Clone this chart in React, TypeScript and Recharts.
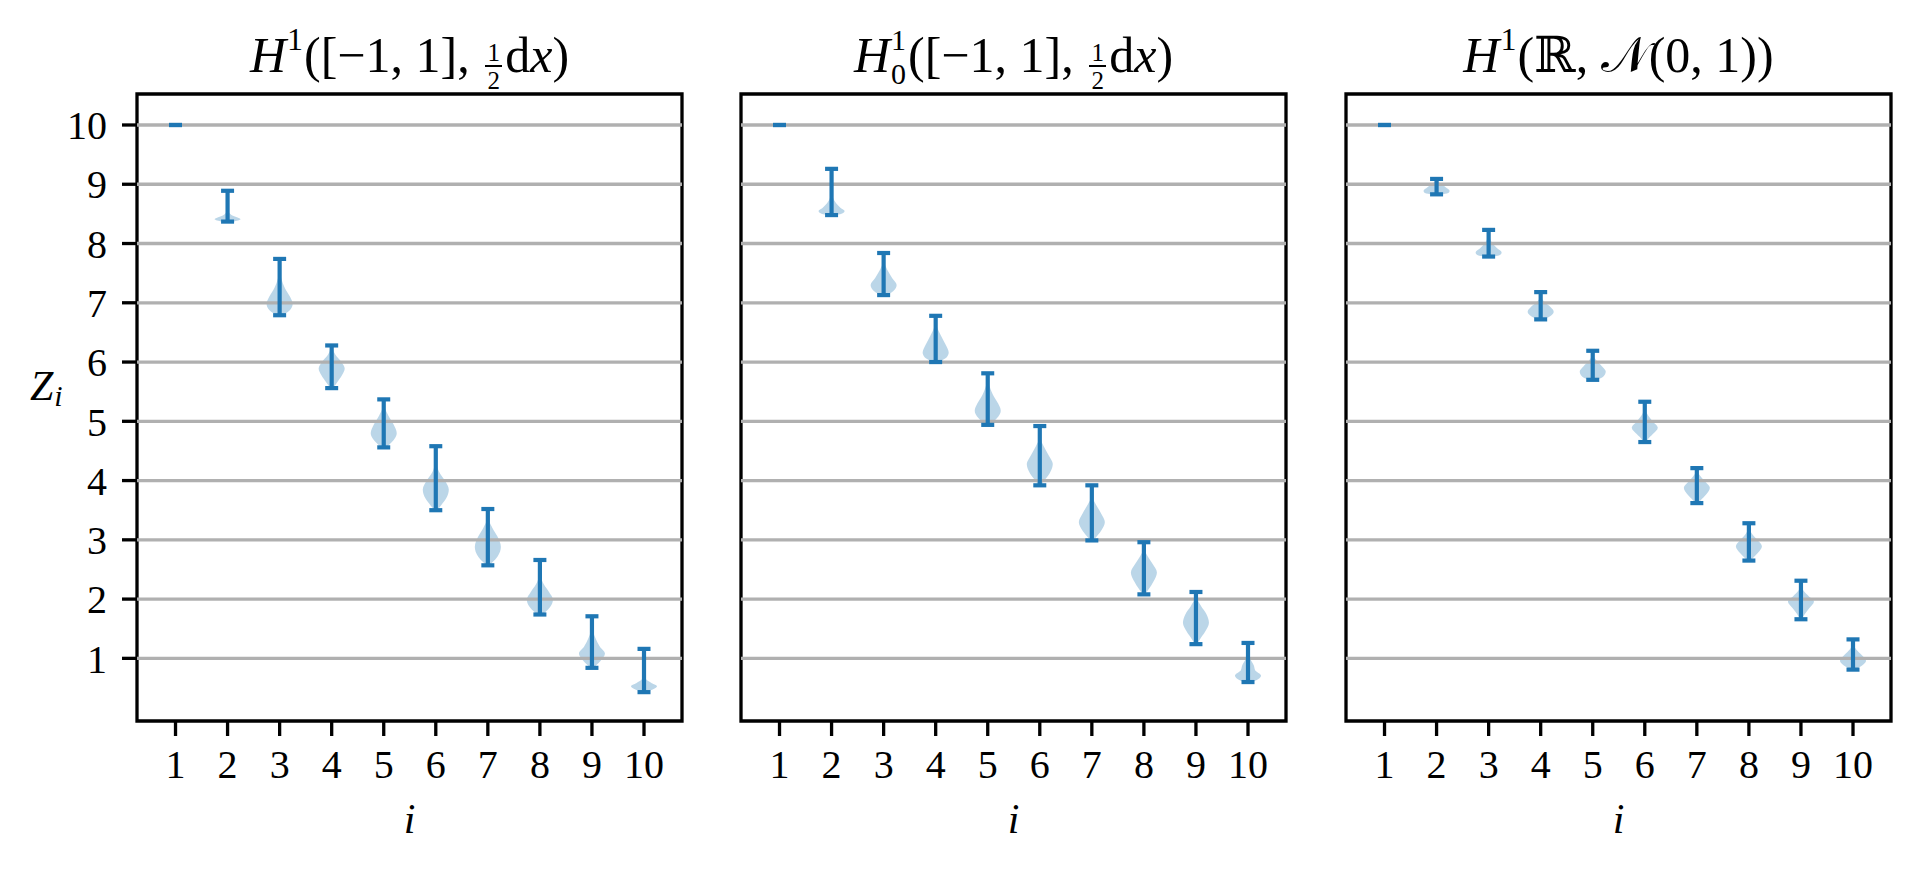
import React from 'react';
import {
  ComposedChart,
  XAxis,
  YAxis,
  Area,
  Scatter,
  ErrorBar,
  ReferenceLine,
  ReferenceArea,
} from 'recharts';

// [value, relative half-width 0..1], listed from the top of the violin down
type Profile = [number, number][];

const positions = [1, 2, 3, 4, 5, 6, 7, 8, 9, 10];
const yTicks = [1, 2, 3, 4, 5, 6, 7, 8, 9, 10];

// H^1([-1,1], 1/2 dx)
const h1Min = [10, 8.37, 6.79, 5.56, 4.56, 3.5, 2.57, 1.74, 0.84, 0.43];
const h1Max = [10, 8.89, 7.74, 6.28, 5.37, 4.58, 3.52, 2.66, 1.71, 1.16];
const h1Shapes: Profile[] = [
  [],
  [[8.89, 0.01], [8.7, 0.03], [8.55, 0.08], [8.48, 0.3], [8.43, 0.85], [8.41, 1.0], [8.39, 0.8], [8.37, 0.4]],
  [[7.74, 0.01], [7.6, 0.03], [7.42, 0.12], [7.25, 0.4], [7.1, 0.8], [6.98, 1.0], [6.88, 0.8], [6.82, 0.45], [6.79, 0.2]],
  [[6.28, 0.02], [6.22, 0.08], [6.12, 0.3], [6.0, 0.75], [5.89, 1.0], [5.78, 0.8], [5.65, 0.4], [5.56, 0.1]],
  [[5.37, 0.02], [5.22, 0.1], [5.1, 0.35], [4.95, 0.75], [4.8, 1.0], [4.68, 0.75], [4.6, 0.4], [4.56, 0.2]],
  [[4.58, 0.01], [4.3, 0.06], [4.15, 0.25], [4.0, 0.7], [3.85, 1.0], [3.7, 0.8], [3.58, 0.4], [3.5, 0.1]],
  [[3.52, 0.01], [3.32, 0.1], [3.2, 0.35], [3.05, 0.75], [2.88, 1.0], [2.72, 0.75], [2.62, 0.35], [2.57, 0.1]],
  [[2.66, 0.01], [2.4, 0.07], [2.25, 0.3], [2.12, 0.7], [1.99, 1.0], [1.87, 0.8], [1.78, 0.4], [1.74, 0.15]],
  [[1.71, 0.01], [1.5, 0.06], [1.35, 0.25], [1.2, 0.6], [1.08, 1.0], [0.97, 0.7], [0.88, 0.3], [0.84, 0.1]],
  [[1.16, 0.005], [0.8, 0.03], [0.65, 0.15], [0.58, 0.6], [0.53, 1.0], [0.48, 0.7], [0.45, 0.35], [0.43, 0.2]],
];

// H^1_0([-1,1], 1/2 dx)
const h0Min = [10, 8.48, 7.13, 6.0, 4.94, 3.92, 2.99, 2.08, 1.24, 0.6];
const h0Max = [10, 9.26, 7.84, 6.78, 5.81, 4.92, 3.92, 2.96, 2.12, 1.26];
const h0Shapes: Profile[] = [
  [],
  [[9.26, 0.005], [8.9, 0.02], [8.78, 0.1], [8.68, 0.35], [8.6, 0.7], [8.55, 1.0], [8.51, 0.85], [8.48, 0.35]],
  [[7.84, 0.01], [7.68, 0.06], [7.55, 0.3], [7.42, 0.65], [7.3, 1.0], [7.2, 0.75], [7.15, 0.4], [7.13, 0.2]],
  [[6.78, 0.01], [6.6, 0.1], [6.45, 0.4], [6.3, 0.75], [6.16, 1.0], [6.08, 0.85], [6.03, 0.5], [6.0, 0.3]],
  [[5.81, 0.01], [5.65, 0.08], [5.45, 0.4], [5.3, 0.8], [5.18, 1.0], [5.05, 0.7], [4.97, 0.3], [4.94, 0.15]],
  [[4.92, 0.01], [4.7, 0.06], [4.58, 0.3], [4.42, 0.7], [4.28, 1.0], [4.12, 0.75], [4.0, 0.35], [3.92, 0.1]],
  [[3.92, 0.01], [3.72, 0.06], [3.6, 0.3], [3.45, 0.7], [3.3, 1.0], [3.15, 0.7], [3.04, 0.3], [2.99, 0.12]],
  [[2.96, 0.01], [2.82, 0.08], [2.72, 0.3], [2.6, 0.65], [2.45, 1.0], [2.3, 0.75], [2.16, 0.35], [2.08, 0.1]],
  [[2.12, 0.02], [2.0, 0.1], [1.88, 0.4], [1.75, 0.8], [1.6, 1.0], [1.45, 0.7], [1.32, 0.3], [1.24, 0.1]],
  [[1.26, 0.01], [1.1, 0.04], [0.98, 0.2], [0.88, 0.45], [0.8, 0.55], [0.71, 1.0], [0.65, 0.8], [0.6, 0.35]],
];

// H^1(R, N(0,1))
const rMin = [10, 8.83, 7.78, 6.72, 5.7, 4.65, 3.62, 2.65, 1.66, 0.81];
const rMax = [10, 9.09, 8.23, 7.18, 6.19, 5.33, 4.21, 3.28, 2.31, 1.32];
const rShapes: Profile[] = [
  [],
  [[9.09, 0.03], [9.05, 0.12], [9.0, 0.4], [8.95, 0.7], [8.89, 1.0], [8.86, 0.95], [8.83, 0.5]],
  [[8.23, 0.01], [8.1, 0.08], [8.0, 0.3], [7.92, 0.65], [7.85, 1.0], [7.81, 0.9], [7.78, 0.4]],
  [[7.18, 0.01], [7.08, 0.08], [7.0, 0.35], [6.93, 0.75], [6.85, 1.0], [6.77, 0.7], [6.72, 0.2]],
  [[6.19, 0.01], [6.1, 0.06], [6.02, 0.3], [5.93, 0.7], [5.84, 1.0], [5.75, 0.8], [5.7, 0.3]],
  [[5.33, 0.01], [5.2, 0.04], [5.12, 0.2], [5.0, 0.6], [4.89, 1.0], [4.78, 0.6], [4.7, 0.25], [4.65, 0.1]],
  [[4.21, 0.01], [4.15, 0.06], [4.08, 0.25], [3.98, 0.65], [3.88, 1.0], [3.76, 0.7], [3.67, 0.3], [3.62, 0.1]],
  [[3.28, 0.01], [3.18, 0.06], [3.1, 0.25], [3.0, 0.65], [2.89, 1.0], [2.78, 0.7], [2.7, 0.35], [2.65, 0.1]],
  [[2.31, 0.01], [2.22, 0.04], [2.14, 0.2], [2.05, 0.6], [1.96, 1.0], [1.85, 0.65], [1.75, 0.3], [1.66, 0.05]],
  [[1.32, 0.01], [1.22, 0.05], [1.15, 0.25], [1.06, 0.65], [0.96, 1.0], [0.88, 0.7], [0.84, 0.4], [0.81, 0.2]],
];

const BLUE = '#1f77b4';
const GRID = '#b0b0b0';
const FONT = '"Liberation Serif", "DejaVu Serif", "DejaVu Sans", serif';
const X_DOMAIN: [number, number] = [0.26, 10.73];
const Y_DOMAIN: [number, number] = [-0.057, 10.523];
const HALF = 0.25; // violin half width in x units
const LW = 4.2;
const AXW = 3.3;
const H = 871;
const PLOT_TOP = 94;
const PLOT_BOTTOM = 721;
const PLOT_W = 545;

interface PanelProps {
  mins: number[];
  maxs: number[];
  shapes: Profile[];
  left: number;
  width: number;
  axisWidth: number;
  marginRight: number;
  yLabels: boolean;
}

function ViolinPanel({ mins, maxs, shapes, left, width, axisWidth, marginRight, yLabels }: PanelProps) {
  const bars = positions.map((p, i) => ({ x: p, y: mins[i], err: [0, maxs[i] - mins[i]] }));
  const tickStyle = { fill: '#000', fontSize: 40, fontFamily: FONT };
  return (
    <div style={{ position: 'absolute', left, top: 0 }}>
      <ComposedChart
        width={width}
        height={H}
        layout="vertical"
        margin={{ top: PLOT_TOP, right: marginRight, bottom: 50, left: 0 }}
      >
        <XAxis
          type="number"
          dataKey="x"
          domain={X_DOMAIN}
          allowDataOverflow
          ticks={positions}
          interval={0}
          axisLine={false}
          tickSize={15}
          tickMargin={14}
          tickLine={{ stroke: '#000', strokeWidth: AXW }}
          tick={tickStyle}
          height={H - PLOT_BOTTOM - 50}
        />
        <YAxis
          type="number"
          dataKey="y"
          domain={Y_DOMAIN}
          allowDataOverflow
          reversed
          ticks={yTicks}
          interval={0}
          axisLine={false}
          width={axisWidth}
          tickSize={15}
          tickMargin={15}
          tickLine={{ stroke: '#000', strokeWidth: AXW }}
          tick={yLabels ? tickStyle : false}
        />
        {shapes.map((prof, i) =>
          prof.length > 0 ? (
            <Area
              key={`v${i}`}
              data={prof.map(([v, w]) => ({
                y: v,
                band: [positions[i] - HALF * w, positions[i] + HALF * w],
              }))}
              dataKey="band"
              type="monotone"
              stroke="none"
              fill={BLUE}
              fillOpacity={0.3}
              isAnimationActive={false}
            />
          ) : null
        )}
        {yTicks.map((t) => (
          <ReferenceLine key={`g${t}`} y={t} stroke={GRID} strokeWidth={AXW} />
        ))}
        <Scatter data={bars} shape={() => <g />} isAnimationActive={false}>
          <ErrorBar dataKey="err" direction="y" width={6.5} stroke={BLUE} strokeWidth={LW} isAnimationActive={false} />
        </Scatter>
        <ReferenceArea
          x1={X_DOMAIN[0]}
          x2={X_DOMAIN[1]}
          y1={Y_DOMAIN[0]}
          y2={Y_DOMAIN[1]}
          fill="none"
          stroke="#000"
          strokeWidth={AXW}
          ifOverflow="visible"
        />
      </ComposedChart>
    </div>
  );
}

// super/subscript pair, positioned from the baseline; tight line boxes
function Scr({ sup, sub, size, width, rise = 0, drop = 0 }: { sup?: React.ReactNode; sub?: React.ReactNode; size: number; width: number; rise?: number; drop?: number }) {
  const lh = 0.7 * size;
  return (
    <span style={{ display: 'inline-block', position: 'relative', width, height: 0 }}>
      {sup != null && (
        <span style={{ position: 'absolute', left: 1, bottom: rise - 0.0125 * size, fontSize: size, lineHeight: `${lh}px` }}>{sup}</span>
      )}
      {sub != null && (
        <span style={{ position: 'absolute', left: 1, top: drop - 0.6875 * size, fontSize: size, lineHeight: `${lh}px` }}>{sub}</span>
      )}
    </span>
  );
}

function Frac({ num, den }: { num: string; den: string }) {
  const s = 25;
  const w = 17;
  const lh = 0.7 * s;
  return (
    <span style={{ display: 'inline-block', position: 'relative', width: w, height: 0, margin: '0 3px' }}>
      <span style={{ position: 'absolute', left: 0, width: w, textAlign: 'center', bottom: 11 - 0.0125 * s, fontSize: s, lineHeight: `${lh}px` }}>{num}</span>
      <span style={{ position: 'absolute', left: 0, width: w, bottom: 5, height: 2, background: '#000' }} />
      <span style={{ position: 'absolute', left: 0, width: w, textAlign: 'center', top: 17 - 0.6875 * s, fontSize: s, lineHeight: `${lh}px` }}>{den}</span>
    </span>
  );
}

const panels = [
  { key: 'h1', mins: h1Min, maxs: h1Max, shapes: h1Shapes, left: 0, width: 700, axisWidth: 137, marginRight: 18, yLabels: true },
  { key: 'h0', mins: h0Min, maxs: h0Max, shapes: h0Shapes, left: 700, width: 600, axisWidth: 41, marginRight: 14, yLabels: false },
  { key: 'r', mins: rMin, maxs: rMax, shapes: rShapes, left: 1300, width: 620, axisWidth: 46, marginRight: 29, yLabels: false },
];

const titles = [
  <>
    <i>H</i>
    <Scr sup="1" size={32} width={18} rise={22} />
    ([−1, 1], <Frac num="1" den="2" />d<i>x</i>)
  </>,
  <>
    <i>H</i>
    <Scr sup="1" sub="0" size={30} width={18} rise={23} drop={11} />
    ([−1, 1], <Frac num="1" den="2" />d<i>x</i>)
  </>,
  <>
    <i>H</i>
    <Scr sup="1" size={32} width={18} rise={22} />
    (ℝ, 𝒩(0, 1))
  </>,
];

export default function App() {
  return (
    <div style={{ position: 'absolute', left: 0, top: 0, width: 1920, height: H, background: '#fff', fontFamily: FONT, color: '#000' }}>
      {panels.map((p) => (
        <ViolinPanel key={p.key} {...p} />
      ))}
      {panels.map((p, i) => {
        const plotLeft = p.left + p.axisWidth;
        return (
          <React.Fragment key={`t${p.key}`}>
            <div style={{ position: 'absolute', left: plotLeft, width: PLOT_W, top: 72 - 0.8375 * 50, fontSize: 50, lineHeight: '50px', textAlign: 'center', whiteSpace: 'nowrap' }}>
              {titles[i]}
            </div>
            <div style={{ position: 'absolute', left: plotLeft, width: PLOT_W, top: 833 - 0.8375 * 42, fontSize: 42, lineHeight: '42px', textAlign: 'center', fontStyle: 'italic' }}>
              i
            </div>
          </React.Fragment>
        );
      })}
      <div style={{ position: 'absolute', left: 30, top: 400 - 0.8375 * 42, fontSize: 42, lineHeight: '42px', whiteSpace: 'nowrap' }}>
        <i>Z</i>
        <Scr sub={<i>i</i>} size={30} width={12} drop={6} />
      </div>
    </div>
  );
}
